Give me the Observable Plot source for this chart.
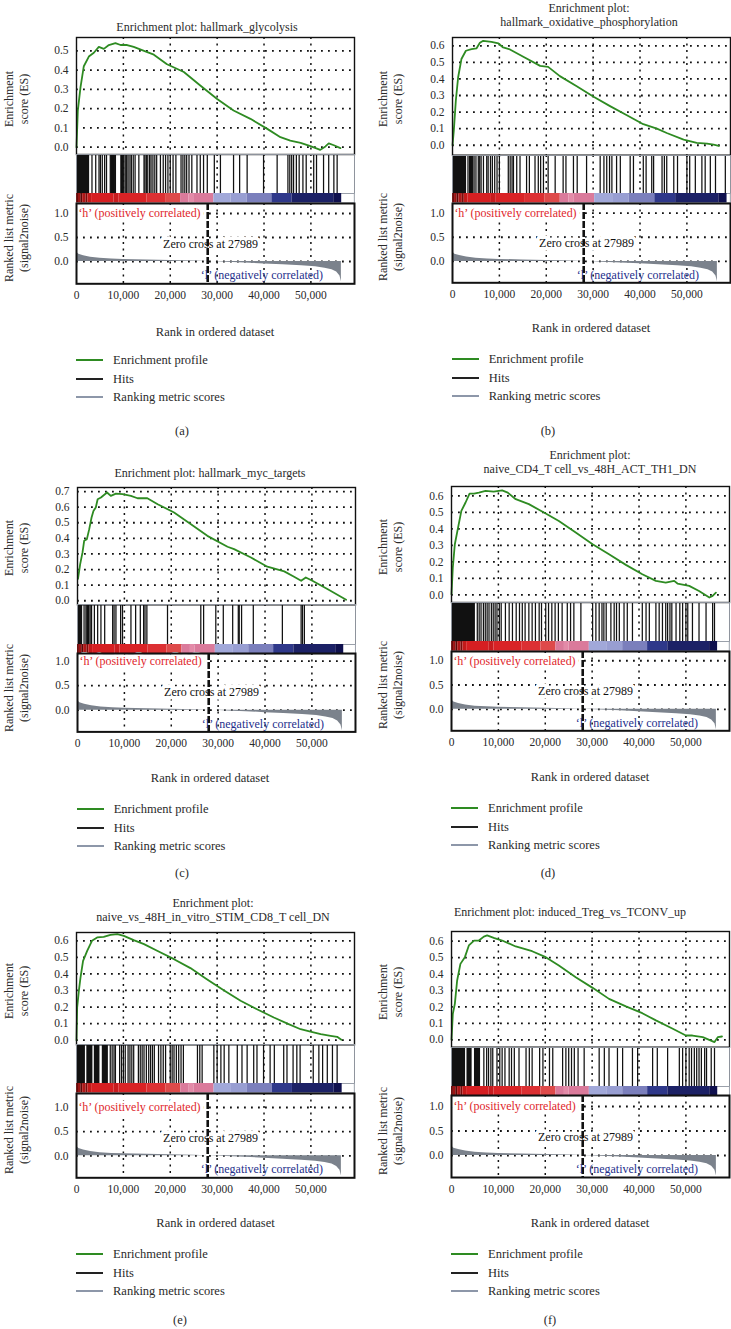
<!DOCTYPE html>
<html><head><meta charset="utf-8">
<script src="https://cdn.jsdelivr.net/npm/d3@7"></script>
<script src="https://cdn.jsdelivr.net/npm/@observablehq/plot@0.6"></script>
<style>
html,body{margin:0;padding:0;background:#fff;}
#root{position:relative;width:731px;height:1329px;overflow:hidden;font-family:"Liberation Serif","Times New Roman",serif;color:#2a2a2a;}
#root svg{overflow:visible;}
.t{position:absolute;white-space:nowrap;font-size:12px;line-height:1;}
.lg{position:absolute;height:2px;width:27px;}
</style></head><body><div id="root"></div>
<script>
// ---------- shared axis data (ranks in thousands) ----------
const xDomain = [0, 59.3];
const xTickVals = [0, 10, 20, 30, 40, 50];
const xTickLabels = ["0", "10,000", "20,000", "30,000", "40,000", "50,000"];
const xGrid = [10, 20, 30, 40, 50];
const rTicks = [0, 0.5, 1.0];
const zeroCross = 27.989;
const posLabel = "\u2018h\u2019 (positively correlated)";
const negLabel = "\u2018l\u2019 (negatively correlated)";
const zeroLabel = "Zero cross at 27989";
const legendLabels = ["Enrichment profile", "Hits", "Ranking metric scores"];
const rankLabel = "Rank in ordered dataset";

// ranked list metric (signal2noise), same ranked list in every panel
const metric = [[0,0.2],[0.5,0.15],[1.5,0.12],[3,0.09],[5,0.065],[7.5,0.05],[10,0.042],[15,0.03],[20,0.02],[25,0.01],[28,0.0],[29.5,-0.003],[32,-0.015],[36,-0.03],[40,-0.05],[44,-0.07],[48,-0.09],[51,-0.11],[53,-0.14],[54.5,-0.17],[55.5,-0.22],[56.2,-0.3],[56.5,-0.42]];

// colour bar of the ranked list (stops for a 56.6k long bar)
const barRef = 56.6;
const barStops = [0,0.4,0.9,1.3,2.0,2.4,3.2,8,9,15,19,22.2,24,25,29.3,33,36.4,41.7,46,54.9,56.6];
const barColors = ["#6b0a0a","#9c1414","#5e0707","#b01818","#7a0c0c","#c41a1a","#d61f22","#c81c1f","#d92326","#dc3033","#de4a4a","#da7a9b","#e38aa8","#da7a9b","#a1a8d9","#989ed2","#7b7fbc","#2f388a","#1c2166","#0f104e"];

// ---------- panel titles ----------
const titleA = ["Enrichment plot: hallmark_glycolysis"];
const titleB = ["Enrichment plot:", "hallmark_oxidative_phosphorylation"];
const titleC = ["Enrichment plot: hallmark_myc_targets"];
const titleD = ["Enrichment plot:", "naive_CD4_T cell_vs_48H_ACT_TH1_DN"];
const titleE = ["Enrichment plot:", "naive_vs_48H_in_vitro_STIM_CD8_T cell_DN"];
const titleF = ["Enrichment plot: induced_Treg_vs_TCONV_up"];
const captions = ["(a)", "(b)", "(c)", "(d)", "(e)", "(f)"];

// ---------- ES tick values ----------
const esTicks6 = [0, 0.1, 0.2, 0.3, 0.4, 0.5];
const esTicks7 = [0, 0.1, 0.2, 0.3, 0.4, 0.5, 0.6];
const esTicks8 = [0, 0.1, 0.2, 0.3, 0.4, 0.5, 0.6, 0.7];

// ---------- running enrichment scores [rank(k), ES] ----------
const esA = [[0,0],[0.28,0.19],[0.85,0.31],[1.56,0.42],[2.63,0.47],[3.7,0.49],[4.76,0.52],[5.83,0.51],[6.9,0.53],[8.3,0.54],[9.4,0.53],[10.8,0.53],[12.2,0.52],[14.4,0.50],[16.5,0.48],[19.3,0.43],[22.9,0.39],[26.4,0.32],[30,0.25],[33.5,0.19],[37.1,0.147],[40.7,0.095],[43.5,0.052],[45.6,0.034],[47.8,0.022],[49.9,0.005],[52,-0.014],[53.1,0.004],[53.8,0.02],[54.9,0.01],[56.3,-0.005]];
const esB = [[0,0],[0.28,0.09],[0.71,0.27],[1.2,0.41],[1.9,0.52],[2.85,0.57],[4.06,0.58],[5.1,0.584],[5.84,0.618],[6.55,0.63],[8.3,0.624],[9.8,0.614],[10.8,0.59],[12.25,0.578],[15.1,0.534],[18.7,0.479],[20.4,0.473],[22.9,0.417],[26.5,0.356],[30.1,0.292],[33.6,0.236],[37.2,0.181],[40.7,0.127],[43.6,0.1],[45.7,0.074],[49.3,0.034],[52.1,0.014],[54.3,0.01],[55.7,0.004],[56.8,-0.004]];
const esC = [[0.1,0.14],[0.57,0.235],[1.07,0.31],[1.42,0.384],[2.0,0.395],[2.5,0.459],[3.0,0.534],[3.4,0.576],[3.9,0.598],[4.3,0.651],[5.0,0.662],[6.3,0.694],[7.1,0.672],[8.2,0.687],[9.6,0.683],[11.4,0.672],[12.8,0.657],[14.9,0.657],[17.1,0.619],[20.6,0.566],[24.2,0.491],[27.7,0.416],[32,0.346],[33.4,0.331],[37,0.277],[40.5,0.218],[44.1,0.188],[46.2,0.154],[47.7,0.128],[48.7,0.149],[50.1,0.128],[53.3,0.075],[57.3,0.006]];
const esD = [[0,0.004],[0.28,0.166],[0.71,0.307],[1.4,0.408],[2.1,0.509],[3.0,0.56],[3.85,0.614],[4.8,0.614],[5.84,0.62],[7.26,0.63],[9.0,0.626],[10.8,0.634],[12.0,0.62],[13.7,0.58],[16.5,0.55],[20.1,0.493],[22.9,0.448],[26.5,0.378],[30.1,0.307],[33.6,0.246],[37.2,0.182],[40.7,0.125],[43.6,0.085],[45.7,0.075],[47.5,0.085],[48.2,0.069],[50.7,0.055],[52.8,0.024],[55,-0.016],[55.7,-0.006],[56.4,0.014]];
const esE = [[0,0],[0.14,0.197],[0.5,0.298],[0.85,0.378],[1.4,0.479],[2.3,0.54],[3.3,0.6],[4.4,0.62],[5.8,0.624],[7.25,0.636],[8.7,0.64],[10.1,0.63],[12.2,0.604],[14.4,0.58],[17.2,0.54],[20.8,0.489],[24.3,0.435],[27.8,0.368],[31.4,0.302],[35,0.238],[38.5,0.187],[42.1,0.137],[45,0.1],[47.8,0.066],[49.9,0.052],[52.1,0.036],[54.2,0.026],[55.6,0.02],[56.5,0.002]];
const esF = [[0,0],[0.28,0.158],[0.71,0.219],[1.2,0.361],[1.9,0.462],[2.85,0.503],[3.7,0.574],[4.8,0.604],[5.84,0.604],[6.9,0.628],[7.6,0.635],[9.0,0.62],[10.8,0.604],[13.7,0.568],[17.2,0.539],[20.1,0.503],[22.9,0.452],[26.5,0.381],[30.1,0.316],[33.6,0.249],[37.2,0.203],[40.7,0.162],[43.6,0.118],[47.2,0.067],[50,0.026],[51.4,0.026],[53.6,0.016],[56.1,-0.014],[56.8,0.016],[57.7,0.02]];

// ---------- hit positions (rank, k) and solid hit clusters [from,to] ----------
const hitsA = [3.3,4.1,4.8,5.1,5.5,6.0,6.4,7.2,7.6,8.0,8.3,9.5,9.8,10.1,10.4,10.7,11.0,11.4,11.7,12.1,12.5,13.3,14.4,14.6,14.9,15.2,15.6,15.9,16.3,16.7,17.1,17.9,18.5,19.0,19.5,20.0,20.6,21.2,22.3,22.7,23.1,23.5,24.0,24.6,25.7,26.4,27.1,27.9,29.4,30.7,33.5,34.8,36.4,39.9,42.8,45.1,45.5,45.9,46.3,46.9,47.5,48.3,49.0,50.6,51.2,52.7,53.8,54.9,55.6];
const blocksA = [[0,2.8],[7.3,8.3],[9.5,10.2]];
const hitsB = [3.3,3.7,4.3,4.6,5.0,5.5,5.8,6.1,6.6,7.3,7.6,8.1,8.5,9.0,9.5,10.0,11.9,12.3,12.7,13.0,13.7,14.4,15.8,16.4,17.6,18.3,18.8,19.4,20.4,21.9,23.6,24.2,25.8,26.6,28.6,31.5,32.3,32.9,33.5,34.0,35.0,35.8,37.9,38.6,40.7,41.3,42.5,42.9,44.7,45.2,45.7,47.2,48.0,50.0,50.6,51.8,53.2,53.9,55.0,56.1,58.2];
const blocksB = [[0,3.0],[3.6,4.4]];
const hitsC = [1.4,1.8,2.1,2.4,2.7,3.0,3.6,4.3,5.0,5.8,7.5,7.8,8.2,9.2,9.6,11.4,12.4,13.4,14.1,14.4,14.8,19.2,26.3,26.9,29.5,31.1,33.1,34.3,34.5,35.0,37.5,43.7,47.7,48.0,48.4];
const blocksC = [[0,1.1],[2.0,2.6]];
const hitsD = [5.5,5.9,6.3,6.8,7.2,7.6,8.0,8.5,8.9,9.3,9.7,10.2,10.6,11.5,12.3,13.0,13.8,14.5,15.1,15.7,16.5,17.2,17.9,18.7,19.2,20.1,20.7,21.4,22.1,22.8,23.6,24.7,25.4,26.1,27.6,30.1,30.8,31.5,32.1,32.5,33.0,34.0,34.7,35.2,35.8,36.8,37.5,38.6,40.7,41.5,42.2,43.6,44.3,45.0,45.7,46.1,46.6,47.0,47.9,48.7,49.3,50.0,50.4,51.4,52.8,54.3,55.7,56.1];
const blocksD = [[0,5.1]];
const hitsE = [7.2,7.6,8.0,8.3,9.2,9.6,10.0,10.4,11.0,11.4,11.8,12.2,13.2,13.6,14.0,14.4,14.9,15.4,15.8,16.2,16.6,17.5,18.0,18.5,19.0,20.0,20.4,20.8,21.3,21.8,22.3,22.8,25.8,26.3,26.8,29.3,30.0,30.8,31.5,32.5,34.3,35.3,36.4,37.8,38.5,39.9,41.3,42.2,44.2,44.9,46.2,47.0,47.7,50.5,51.7,52.5,53.5,54.6,55.6];
const blocksE = [[0,1.9],[2.2,3.5],[3.8,5.0],[5.5,6.8]];
const hitsF = [6.9,7.5,7.9,8.4,8.8,9.7,10.3,10.8,11.4,12.3,12.8,13.4,14.4,15.9,16.6,17.2,18.8,19.5,20.9,21.6,23.7,24.4,25.0,25.6,26.2,27.0,28.3,31.5,32.6,33.6,35.4,36.5,38.6,39.7,42.9,43.9,46.1,48.6,49.3,50.0,50.7,51.2,51.8,52.3,52.8,53.3,54.0,54.4,55.4,56.1];
const blocksF = [[0,3.0],[3.3,4.4],[4.9,6.2]];

// ---------- layout (pixels) ----------
const W = 278, ML = 40, MR = 2, MB = 22;
const FONT = '"Liberation Serif","Times New Roman",serif';
const STYLE = {fontFamily: FONT, fontSize: "11.5px", color: "#2a2a2a", background: "transparent", overflow: "visible", position: "absolute"};
const GREEN = "#2e8b22", RED = "#e0262b", BLUE = "#1e2f8c", GRAY = "#7b828c";
const DOT_H = {stroke: "#111", strokeWidth: 1.8, strokeDasharray: "1.8,5.2"};
const DOT_V = {stroke: "#111", strokeWidth: 1.5, strokeDasharray: "2,4.5"};

const panels = [
  {L:{left:76,top:37,esBottom:154,barTop:193.3,barBottom:202.7,rBottom:283,esDomain:[-0.038,0.569],rDomain:[-0.465,1.208]},
   T:{tx:207,ty:27,rx:215,ry:332,leg:360,cx:182,cy:431,lab:16.5},
   es:esA, esTicks:esTicks6, hits:hitsA, blocks:blocksA, barEnd:56.6, title:titleA},
  {L:{left:451.7,top:37.3,esBottom:155,barTop:193.3,barBottom:202.7,rBottom:282,esDomain:[-0.060,0.650],rDomain:[-0.442,1.198]},
   T:{tx:589,ty:7.5,rx:591,ry:328,leg:359,cx:548,cy:431,lab:391},
   es:esB, esTicks:esTicks7, hits:hitsB, blocks:blocksB, barEnd:58.6, title:titleB},
  {L:{left:76.7,top:486.7,esBottom:604,barTop:644,barBottom:653.3,rBottom:731.7,esDomain:[-0.026,0.726],rDomain:[-0.443,1.157]},
   T:{tx:210,ty:473,rx:210,ry:777.7,leg:809,cx:182,cy:873,lab:16.5},
   es:esC, esTicks:esTicks8, hits:hitsC, blocks:blocksC, barEnd:56.8, title:titleC},
  {L:{left:451,top:485.7,esBottom:601.7,barTop:641,barBottom:650.7,rBottom:730,esDomain:[-0.046,0.657],rDomain:[-0.443,1.19]},
   T:{tx:590,ty:455,rx:590,ry:777,leg:808,cx:548,cy:873,lab:391},
   es:esD, esTicks:esTicks7, hits:hitsD, blocks:blocksD, barEnd:56.8, title:titleD},
  {L:{left:76,top:931.7,esBottom:1044,barTop:1083.3,barBottom:1092.7,rBottom:1177,esDomain:[-0.028,0.650],rDomain:[-0.455,1.29]},
   T:{tx:213,ty:903,rx:215.5,ry:1223,leg:1254,cx:180,cy:1320,lab:16.5},
   es:esE, esTicks:esTicks7, hits:hitsE, blocks:blocksE, barEnd:56.7, title:titleE},
  {L:{left:451,top:931,esBottom:1046.7,barTop:1085.7,barBottom:1095,rBottom:1177,esDomain:[-0.045,0.659],rDomain:[-0.449,1.224]},
   T:{tx:570,ty:912,rx:590,ry:1223,leg:1254,cx:550,cy:1320,lab:391},
   es:esF, esTicks:esTicks7, hits:hitsF, blocks:blocksF, barEnd:56.8, title:titleF}
];

const root = document.getElementById("root");
function place(el, x, y) {
  el.style.position = "absolute";
  el.style.left = x + "px";
  el.style.top = y + "px";
  root.appendChild(el);
}
function addText(str, x, y, anchor, extra) {
  const d = document.createElement("div");
  d.className = "t";
  d.textContent = str;
  d.style.left = x + "px";
  d.style.top = y + "px";
  d.style.transform = anchor === "start" ? "translate(0,-50%)" : "translate(-50%,-50%)";
  if (extra) Object.assign(d.style, extra);
  root.appendChild(d);
}
function addRot(lines, cx, cy) {
  const d = document.createElement("div");
  d.className = "t";
  d.style.left = cx + "px";
  d.style.top = cy + "px";
  d.style.textAlign = "center";
  d.style.lineHeight = "15px";
  d.style.fontSize = "12px";
  d.style.transform = "translate(-50%,-50%) rotate(-90deg)";
  lines.forEach((s, i) => {
    if (i) d.appendChild(document.createElement("br"));
    d.appendChild(document.createTextNode(s));
  });
  root.appendChild(d);
}

const xFmt = d => xTickLabels[xTickVals.indexOf(d)];

panels.forEach((p, idx) => {
  const L = p.L, T = p.T;
  // Enrichment score panel
  const es = Plot.plot({
    width: W + ML + MR, height: L.esBottom - L.top,
    marginLeft: ML, marginRight: MR, marginTop: 0, marginBottom: 0,
    style: STYLE,
    x: {domain: xDomain, axis: null},
    y: {domain: L.esDomain, ticks: p.esTicks, tickFormat: d3.format(".1f"), tickSize: 0, tickPadding: 8, label: null},
    marks: [
      Plot.ruleY(p.esTicks, DOT_H),
      Plot.ruleX(xGrid, DOT_V),
      Plot.line(p.es, {x: d => d[0], y: d => d[1], stroke: GREEN, strokeWidth: 1.8}),
      Plot.frame({stroke: "#111", strokeWidth: 1.4})
    ]
  });
  place(es, L.left - ML, L.top);

  // Hits panel
  const hits = Plot.plot({
    width: W + ML + MR, height: L.barTop - L.esBottom,
    marginLeft: ML, marginRight: MR, marginTop: 0, marginBottom: 0,
    style: STYLE,
    x: {domain: xDomain, axis: null},
    marks: [
      Plot.ruleX(xGrid, DOT_V),
      Plot.rect(p.blocks, {x1: d => d[0], x2: d => d[1], fill: "#111"}),
      Plot.ruleX(p.hits, {stroke: "#111", strokeWidth: 1.25}),
      Plot.frame({stroke: "#8e939c", strokeWidth: 1})
    ]
  });
  place(hits, L.left - ML, L.esBottom);

  // Colour bar
  const k = p.barEnd / barRef;
  const segs = barColors.map((c, i) => ({x1: barStops[i] * k, x2: barStops[i + 1] * k, c}));
  const bar = Plot.plot({
    width: W + ML + MR, height: L.barBottom - L.barTop,
    marginLeft: ML, marginRight: MR, marginTop: 0, marginBottom: 0,
    style: STYLE,
    x: {domain: xDomain, axis: null},
    color: {type: "identity"},
    marks: [
      Plot.frame({stroke: "#9aa0aa", strokeWidth: 1, fill: "white"}),
      Plot.rect(segs, {x1: "x1", x2: "x2", fill: "c"})
    ]
  });
  place(bar, L.left - ML, L.barTop);

  // Ranked list metric panel
  const rk = Plot.plot({
    width: W + ML + MR, height: L.rBottom - L.barBottom + MB,
    marginLeft: ML, marginRight: MR, marginTop: 0, marginBottom: MB,
    style: STYLE,
    x: {domain: xDomain, ticks: xTickVals, tickFormat: xFmt, tickSize: 0, tickPadding: 7, label: null},
    y: {domain: L.rDomain, ticks: rTicks, tickFormat: d3.format(".1f"), tickSize: 0, tickPadding: 8, label: null},
    marks: [
      Plot.ruleY(rTicks, DOT_H),
      Plot.ruleX(xGrid, DOT_V),
      Plot.areaY(metric, {x: d => d[0], y: d => d[1], fill: GRAY}),
      Plot.text([posLabel], {x: 0.4, y: 1.0, text: d => d, textAnchor: "start", fill: RED, fontSize: 12, stroke: "white", strokeWidth: 8, strokeLinejoin: "round", paintOrder: "stroke"}),
      Plot.text([zeroLabel], {x: zeroCross + 0.6, y: 0.37, text: d => d, fill: "#111", fontSize: 12, stroke: "white", strokeWidth: 7, strokeLinejoin: "round", paintOrder: "stroke"}),
      Plot.ruleX([zeroCross], {stroke: "#111", strokeWidth: 2.6, strokeDasharray: "7,2"}),
      Plot.text([negLabel], {x: 52.6, y: -0.28, text: d => d, textAnchor: "end", fill: BLUE, fontSize: 12}),
      Plot.frame({stroke: "#111", strokeWidth: 2})
    ]
  });
  place(rk, L.left - ML, L.barBottom);

  // texts
  p.title.forEach((s, i) => addText(s, T.tx, T.ty + i * 14));
  addText(rankLabel, T.rx, T.ry, "center", {fontSize: "12.5px"});
  addRot(["Enrichment", "score (ES)"], T.lab, (L.top + L.esBottom) / 2 + 3);
  addRot(["Ranked list metric", "(signal2noise)"], T.lab, (L.barBottom + L.rBottom) / 2 - 5);
  const legColors = [GREEN, "#222", "#8d97a9"];
  legendLabels.forEach((s, i) => {
    const y = T.leg + i * 18.7;
    const ln = document.createElement("div");
    ln.className = "lg";
    ln.style.left = L.left + "px";
    ln.style.top = (y - 1) + "px";
    ln.style.background = legColors[i];
    root.appendChild(ln);
    addText(s, L.left + 37, y, "start", {fontSize: "12.5px"});
  });
  addText(captions[idx], T.cx, T.cy, "center", {fontSize: "12.5px"});
});
</script></body></html>
